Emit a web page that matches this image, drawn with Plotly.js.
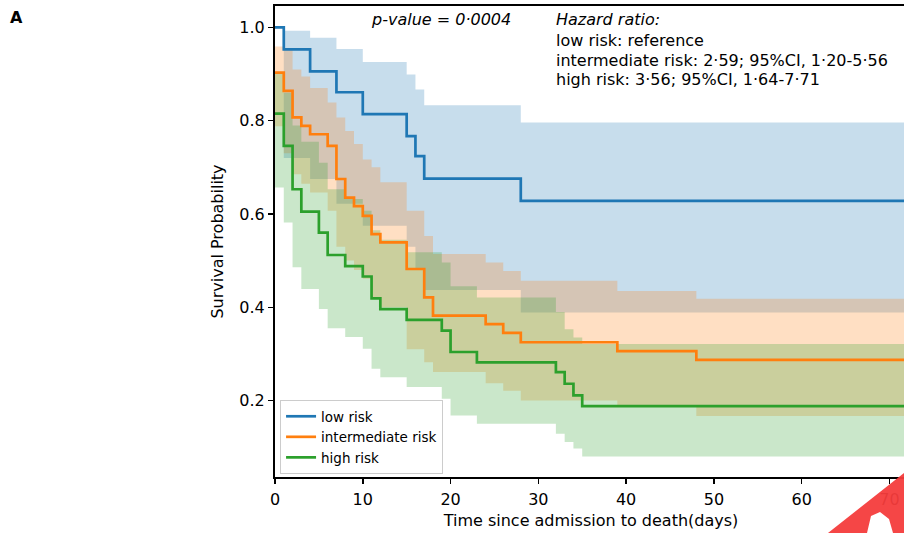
<!DOCTYPE html>
<html>
<head>
<meta charset="utf-8">
<script src="https://cdn.plot.ly/plotly-3.0.1.min.js"></script>
<style>
  html, body { margin: 0; padding: 0; overflow: hidden; background: #fff; }
  #chart { width: 912px; height: 533px; }
</style>
</head>
<body>
<div id="chart"></div>
<script>
// ---- data (days, survival probability, 95% CI) ----
const endDay = 72;

const lowDays  = [0, 1, 4, 7, 10, 15, 16, 17, 28];
const lowSurv  = [1.0, 0.953, 0.906, 0.861, 0.814, 0.767, 0.724, 0.676, 0.628];
const lowUpper = [1.0, 0.993, 0.978, 0.954, 0.926, 0.899, 0.867, 0.833, 0.796];
const lowLower = [1.0, 0.72, 0.675, 0.622, 0.575, 0.53, 0.48, 0.437, 0.389];

const midDays  = [0, 1, 2, 3, 4, 6, 7, 8, 9, 10, 11, 12, 15, 17, 18, 24, 26, 28, 39, 48];
const midSurv  = [0.903, 0.864, 0.807, 0.789, 0.771, 0.746, 0.675, 0.635, 0.617, 0.596, 0.557, 0.539, 0.482, 0.421, 0.382, 0.364, 0.345, 0.325, 0.306, 0.287];
const midUpper = [0.959, 0.953, 0.91, 0.895, 0.87, 0.839, 0.807, 0.778, 0.75, 0.717, 0.70, 0.668, 0.607, 0.553, 0.514, 0.496, 0.478, 0.457, 0.435, 0.418];
const midLower = [0.788, 0.73, 0.685, 0.665, 0.646, 0.607, 0.53, 0.50, 0.48, 0.461, 0.42, 0.40, 0.31, 0.282, 0.261, 0.237, 0.221, 0.200, 0.19, 0.167];

const highDays  = [0, 1, 2, 3, 5, 6, 8, 10, 11, 12, 15, 19, 20, 23, 32, 33, 34, 35];
const highSurv  = [0.815, 0.746, 0.653, 0.605, 0.560, 0.512, 0.488, 0.466, 0.419, 0.396, 0.373, 0.350, 0.304, 0.282, 0.261, 0.236, 0.211, 0.188];
const highUpper = [0.904, 0.86, 0.79, 0.755, 0.71, 0.653, 0.632, 0.607, 0.565, 0.545, 0.518, 0.496, 0.445, 0.421, 0.39, 0.353, 0.335, 0.321];
const highLower = [0.657, 0.582, 0.486, 0.439, 0.396, 0.355, 0.336, 0.311, 0.268, 0.250, 0.229, 0.204, 0.168, 0.150, 0.129, 0.111, 0.097, 0.080];

const groupNames = ['low risk', 'intermediate risk', 'high risk'];
const xTicks = [0, 10, 20, 30, 40, 50, 60, 70];
const yTicks = [0.2, 0.4, 0.6, 0.8, 1.0];

const pText = '<i>p-value = 0·0004</i>';
const hrLines = [
  '<i>Hazard ratio:</i>',
  'low risk: reference',
  'intermediate risk: 2·59; 95%CI, 1·20-5·56',
  'high risk: 3·56; 95%CI, 1·64-7·71'
];

// ---- build traces ----
const groups = [
  {name: groupNames[0], d: lowDays,  s: lowSurv,  u: lowUpper,  l: lowLower,  color: '#1f77b4', fill: 'rgba(31,119,180,0.25)'},
  {name: groupNames[1], d: midDays,  s: midSurv,  u: midUpper,  l: midLower,  color: '#ff7f0e', fill: 'rgba(255,127,14,0.25)'},
  {name: groupNames[2], d: highDays, s: highSurv, u: highUpper, l: highLower, color: '#2ca02c', fill: 'rgba(44,160,44,0.25)'}
];

function ext(arr, last) { return arr.concat([last]); }

const traces = [];
// confidence bands first
groups.forEach(g => {
  const xs = ext(g.d, endDay);
  traces.push({
    x: xs, y: ext(g.u, g.u[g.u.length - 1]), type: 'scatter', mode: 'lines',
    line: {shape: 'hv', width: 0, color: g.fill}, showlegend: false, hoverinfo: 'skip'
  });
  traces.push({
    x: xs, y: ext(g.l, g.l[g.l.length - 1]), type: 'scatter', mode: 'lines',
    line: {shape: 'hv', width: 0, color: g.fill}, fill: 'tonexty', fillcolor: g.fill,
    showlegend: false, hoverinfo: 'skip'
  });
});
// survival step lines on top
groups.forEach(g => {
  const xs = ext(g.d, endDay);
  traces.push({
    x: xs, y: ext(g.s, g.s[g.s.length - 1]), type: 'scatter', mode: 'lines',
    name: g.name, line: {shape: 'hv', width: 2.7, color: g.color}
  });
});

const FONT = 'DejaVu Sans, sans-serif';

// pixel -> paper helpers for annotation placement (plot area 275..907 x 6..477)
const px = v => (v - 275) / 632;
const py = v => 1 - (v - 6) / 471;

const annotations = [
  {text: pText, xref: 'paper', yref: 'paper', x: px(441), y: py(20), xanchor: 'center', yanchor: 'middle',
   showarrow: false, font: {size: 16}},
  {text: '<b>A</b>', xref: 'paper', yref: 'paper', x: px(16), y: py(17), xanchor: 'center', yanchor: 'middle',
   showarrow: false, font: {size: 16}}
];
const hrY = [20, 41, 61, 80];
hrLines.forEach((t, i) => {
  annotations.push({text: t, xref: 'paper', yref: 'paper', x: px(554), y: py(hrY[i]),
    xanchor: 'left', yanchor: 'middle', align: 'left', showarrow: false, font: {size: 16}});
});

// red brush mark in the bottom-right corner of the reference image
const markPts = [[828, 533], [866, 503], [904, 473], [904, 533], [893, 533], [889, 519], [880, 512], [871, 516], [867, 533]];
const markPath = markPts.map((p, i) => (i ? 'L ' : 'M ') + px(p[0]) + ' ' + py(p[1])).join(' ') + ' Z';

const layout = {
  width: 912, height: 533,
  margin: {l: 275, r: 5, t: 6, b: 56},
  paper_bgcolor: '#fff', plot_bgcolor: '#fff',
  font: {family: FONT, size: 16, color: '#000'},
  showlegend: true,
  legend: {
    x: 0.008, y: py(400), xanchor: 'left', yanchor: 'top', traceorder: 'normal',
    bgcolor: 'rgba(255,255,255,0.8)', bordercolor: '#cccccc', borderwidth: 1,
    font: {family: FONT, size: 13.5, color: '#000'}, itemwidth: 30, tracegroupgap: 0
  },
  xaxis: {
    range: [0, endDay], tickvals: xTicks, ticks: 'outside', ticklen: 5, tickwidth: 1.5,
    tickcolor: '#000', showline: true, linecolor: '#000', linewidth: 2, mirror: true,
    showgrid: false, zeroline: false, tickfont: {size: 16}, ticklabelstandoff: 2,
    title: {text: 'Time since admission to death(days)', font: {size: 16}, standoff: 7}
  },
  yaxis: {
    range: [0.036, 1.046], tickvals: yTicks, tickformat: '.1f', ticks: 'outside', ticklen: 5, tickwidth: 1.5,
    tickcolor: '#000', showline: true, linecolor: '#000', linewidth: 2, mirror: true,
    showgrid: false, zeroline: false, tickfont: {size: 16},
    title: {text: 'Survival Probability', font: {size: 16}, standoff: 12}
  },
  shapes: [
    {type: 'path', xref: 'paper', yref: 'paper', layer: 'above', line: {width: 0},
     fillcolor: 'rgba(244,60,60,0.95)', path: markPath}
  ],
  annotations: annotations
};

Plotly.newPlot('chart', traces, layout, {displayModeBar: false, staticPlot: true});
</script>
</body>
</html>
